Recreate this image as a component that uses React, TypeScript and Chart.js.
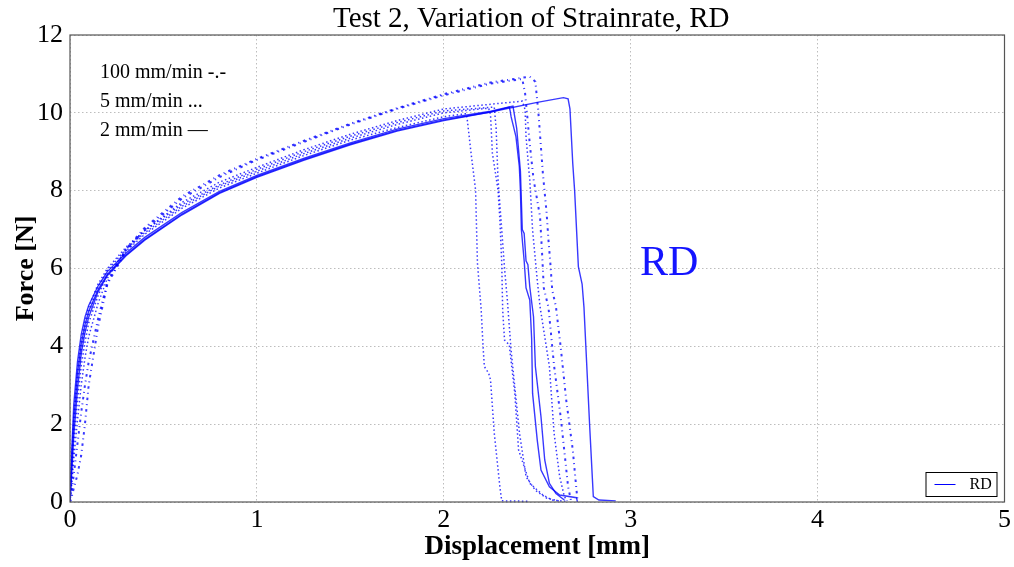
import React, { useEffect, useRef } from 'react';
import { Chart, registerables } from 'chart.js';
Chart.register(...registerables);

// ---- data ----
const RISE_X = [0, 0.01, 0.02, 0.04, 0.06, 0.08, 0.1, 0.15, 0.2, 0.3, 0.4, 0.6, 0.8, 1.0, 1.25, 1.5, 1.75, 2.0];

// 2 mm/min (solid)
const S1_RISE = [0, 1.1, 2.1, 3.3, 4.05, 4.55, 4.9, 5.45, 5.85, 6.35, 6.75, 7.4, 7.95, 8.36, 8.8, 9.2, 9.55, 9.82];
const S1_TAIL_X = [2.25, 2.5, 2.64, 2.665, 2.675, 2.69, 2.7, 2.72, 2.74, 2.75, 2.76, 2.78, 2.795, 2.8, 2.83, 2.92];
const S1_TAIL_Y = [10.02, 10.27, 10.39, 10.36, 10.1, 8.7, 8.0, 6.05, 5.6, 5.0, 4.0, 2.0, 0.6, 0.14, 0.05, 0.03];

const S2_RISE = [0, 0.8, 1.7, 2.9, 3.8, 4.35, 4.75, 5.4, 5.82, 6.33, 6.73, 7.38, 7.93, 8.34, 8.78, 9.18, 9.53, 9.8];
const S2_TAIL_X = [2.25, 2.35, 2.355, 2.36, 2.386, 2.404, 2.41, 2.415, 2.43, 2.44, 2.46, 2.47, 2.475, 2.5, 2.52, 2.565, 2.62, 2.71, 2.715];
const S2_TAIL_Y = [10.02, 10.15, 10.05, 9.9, 9.39, 8.62, 8.0, 7.0, 6.2, 5.5, 5.19, 4.2, 2.79, 1.59, 0.82, 0.39, 0.18, 0.11, 0.0];

const S3_RISE = [0, 1.4, 2.5, 3.6, 4.3, 4.75, 5.05, 5.55, 5.92, 6.4, 6.8, 7.44, 7.98, 8.39, 8.83, 9.23, 9.58, 9.85];
const S3_TAIL_X = [2.25, 2.37, 2.39, 2.41, 2.42, 2.43, 2.44, 2.45, 2.46, 2.48, 2.49, 2.52, 2.54, 2.565, 2.6, 2.645];
const S3_TAIL_Y = [10.04, 10.17, 9.6, 8.5, 7.0, 6.9, 6.2, 6.1, 5.53, 4.76, 3.48, 2.19, 1.08, 0.48, 0.22, 0.05];

// 5 mm/min (dotted)
const D1_RISE = [0, 0.7, 1.5, 2.6, 3.5, 4.1, 4.6, 5.3, 5.85, 6.45, 6.88, 7.55, 8.07, 8.45, 8.9, 9.3, 9.62, 9.9];
const D1_TAIL_X = [2.12, 2.125, 2.145, 2.17, 2.18, 2.2, 2.21, 2.217, 2.24, 2.25, 2.27, 2.3, 2.31, 2.45];
const D1_TAIL_Y = [9.98, 9.85, 9.0, 8.02, 6.14, 4.94, 4.0, 3.48, 3.31, 3.14, 1.77, 0.39, 0.03, 0.02];

const D2_RISE = [0, 1.0, 1.9, 3.1, 3.9, 4.45, 4.85, 5.5, 5.95, 6.5, 6.92, 7.6, 8.12, 8.5, 8.95, 9.35, 9.7, 10.0];
const D2_TAIL_X = [2.24, 2.25, 2.26, 2.29, 2.3, 2.31, 2.315, 2.325, 2.35, 2.38, 2.4, 2.46, 2.53, 2.58, 2.65];
const D2_TAIL_Y = [10.12, 9.95, 8.96, 8.02, 7.25, 6.14, 4.94, 4.16, 4.04, 2.79, 1.34, 0.48, 0.18, 0.05, 0.02];

const D3_RISE = [0, 1.2, 2.2, 3.4, 4.15, 4.65, 5.0, 5.6, 6.0, 6.55, 6.97, 7.65, 8.15, 8.55, 9.0, 9.4, 9.75, 10.05];
const D3_TAIL_X = [2.27, 2.28, 2.29, 2.31, 2.325, 2.34, 2.36, 2.405, 2.44, 2.49, 2.55, 2.62];
const D3_TAIL_Y = [10.15, 9.6, 8.3, 7.0, 6.0, 5.19, 3.9, 1.77, 0.65, 0.3, 0.1, 0.02];

const D4_RISE = [0, 0.5, 1.1, 2.1, 3.0, 3.7, 4.25, 5.1, 5.75, 6.5, 6.98, 7.7, 8.22, 8.6, 9.05, 9.45, 9.8, 10.1];
const D4_TAIL_X = [2.25, 2.42, 2.435, 2.44, 2.455, 2.46, 2.475, 2.5, 2.515, 2.565, 2.59, 2.62, 2.645, 2.66];
const D4_TAIL_Y = [10.22, 10.3, 10.08, 9.39, 8.53, 8.28, 6.99, 5.7, 5.02, 3.48, 1.77, 0.65, 0.14, 0.03];

// 100 mm/min (dash-dot)
const H1_RISE = [0, 0.15, 0.35, 0.7, 1.2, 2.0, 3.0, 4.5, 5.6, 6.45, 7.0, 7.8, 8.35, 8.79, 9.25, 9.7, 10.1, 10.45];
const H1_TAIL_X = [2.25, 2.42, 2.435, 2.445, 2.46, 2.48, 2.515, 2.525, 2.535, 2.56, 2.59, 2.625, 2.65, 2.665, 2.68];
const H1_TAIL_Y = [10.75, 10.87, 10.5, 10.0, 9.2, 8.3, 7.33, 6.47, 5.5, 5.0, 3.5, 2.2, 1.08, 0.39, 0.05];

const H2_RISE = [0, 0.3, 0.7, 1.5, 2.3, 3.0, 3.6, 4.7, 5.65, 6.5, 7.05, 7.85, 8.4, 8.82, 9.28, 9.72, 10.12, 10.48];
const H2_TAIL_X = [2.25, 2.46, 2.49, 2.5, 2.505, 2.53, 2.55, 2.56, 2.57, 2.58, 2.6, 2.625, 2.655, 2.69, 2.705, 2.715];
const H2_TAIL_Y = [10.78, 10.93, 10.8, 10.3, 10.08, 8.45, 7.43, 6.73, 6.14, 5.45, 5.02, 4.0, 2.62, 1.34, 0.56, 0.05];

const X_TICKS = [0, 1, 2, 3, 4, 5];
const Y_TICKS = [0, 2, 4, 6, 8, 10, 12];
const TITLE = 'Test 2, Variation of Strainrate, RD';
const X_TITLE = 'Displacement [mm]';
const Y_TITLE = 'Force [N]';
const NOTES = ['100 mm/min -.-', '5 mm/min ...', '2 mm/min \u2014'];
const LEGEND_LABEL = 'RD';
const BIG_LABEL = 'RD';
const BIG_LABEL_POS = { x: 3.05, y: 6.12 };

const BLUE = 'rgba(0,0,255,0.78)';
const FONT = '"Liberation Serif", "DejaVu Serif", serif';

function curve(rise: number[], tx: number[], ty: number[]) {
  const pts = RISE_X.map((x, i) => ({ x, y: rise[i] }));
  return pts.concat(tx.map((x, i) => ({ x, y: ty[i] })));
}

export default function App() {
  const ref = useRef<HTMLCanvasElement | null>(null);
  useEffect(() => {
    document.body.style.margin = '0';
    const canvas = ref.current;
    if (!canvas) return;
    const solid = { borderColor: BLUE, borderWidth: 1.4, pointRadius: 0, showLine: true, tension: 0, fill: false };
    const dotted = { ...solid, borderWidth: 1.5, borderDash: [1.5, 2.5] };
    const dashdot = { ...solid, borderWidth: 2, borderDash: [2.5, 4, 1, 4] };
    const datasets: any[] = [
      { label: 'h1', data: curve(H1_RISE, H1_TAIL_X, H1_TAIL_Y), ...dashdot },
      { label: 'h2', data: curve(H2_RISE, H2_TAIL_X, H2_TAIL_Y), ...dashdot },
      { label: 'd1', data: curve(D1_RISE, D1_TAIL_X, D1_TAIL_Y), ...dotted },
      { label: 'd2', data: curve(D2_RISE, D2_TAIL_X, D2_TAIL_Y), ...dotted },
      { label: 'd3', data: curve(D3_RISE, D3_TAIL_X, D3_TAIL_Y), ...dotted },
      { label: 'd4', data: curve(D4_RISE, D4_TAIL_X, D4_TAIL_Y), ...dotted },
      { label: 's2', data: curve(S2_RISE, S2_TAIL_X, S2_TAIL_Y), ...solid },
      { label: 's3', data: curve(S3_RISE, S3_TAIL_X, S3_TAIL_Y), ...solid },
      { label: LEGEND_LABEL, data: curve(S1_RISE, S1_TAIL_X, S1_TAIL_Y), ...solid },
    ];

    const overlay = {
      id: 'overlay',
      afterDraw(chart: any) {
        const { ctx, chartArea: a, scales } = chart;
        ctx.save();
        // frame
        ctx.strokeStyle = '#555';
        ctx.lineWidth = 1.2;
        ctx.setLineDash([]);
        ctx.strokeRect(a.left, a.top, a.right - a.left, a.bottom - a.top);
        // title
        ctx.fillStyle = '#000';
        ctx.font = `29px ${FONT}`;
        ctx.textAlign = 'center';
        ctx.textBaseline = 'middle';
        ctx.fillText(TITLE, (a.left + a.right) / 2 - 6, 19);
        // notes
        ctx.font = `20px ${FONT}`;
        ctx.textAlign = 'left';
        NOTES.forEach((t, i) => ctx.fillText(t, 100, 73 + i * 29));
        // big label
        ctx.fillStyle = 'rgb(20,20,255)';
        ctx.font = `42px ${FONT}`;
        ctx.textBaseline = 'middle';
        ctx.fillText(BIG_LABEL, scales.x.getPixelForValue(BIG_LABEL_POS.x), scales.y.getPixelForValue(BIG_LABEL_POS.y));
        // legend
        const bx = a.right - 79, by = a.bottom - 30, bw = 71, bh = 24;
        ctx.fillStyle = '#fff';
        ctx.fillRect(bx, by, bw, bh);
        ctx.strokeStyle = '#000';
        ctx.lineWidth = 1;
        ctx.strokeRect(bx + 0.5, by + 0.5, bw, bh);
        ctx.strokeStyle = 'rgb(0,0,255)';
        ctx.beginPath();
        ctx.moveTo(bx + 9, by + 12.5);
        ctx.lineTo(bx + 30, by + 12.5);
        ctx.stroke();
        ctx.fillStyle = '#000';
        ctx.font = `16px ${FONT}`;
        ctx.fillText(LEGEND_LABEL, bx + 44, by + 12.5);
        ctx.restore();
      },
    };

    const chart = new Chart(canvas, {
      type: 'scatter',
      data: { datasets },
      options: {
        animation: false,
        responsive: false,
        devicePixelRatio: 1,
        layout: { padding: { top: 35, right: 8, left: 0, bottom: 0 } },
        plugins: { legend: { display: false }, tooltip: { enabled: false }, title: { display: false } },
        scales: {
          x: {
            type: 'linear', min: 0, max: 5,
            afterBuildTicks: (s: any) => { s.ticks = X_TICKS.map((v) => ({ value: v })); },
            afterFit: (s: any) => { s.height = 65; },
            ticks: { color: '#000', font: { family: FONT, size: 26 }, padding: 3 },
            grid: { color: '#bdbdbd', lineWidth: 1, drawTicks: false },
            border: { display: false, dash: [1.5, 2.5] },
            title: { display: true, text: X_TITLE, color: '#000', font: { family: FONT, size: 27, weight: 'bold' }, padding: { bottom: 4 } },
          },
          y: {
            type: 'linear', min: 0, max: 12,
            afterBuildTicks: (s: any) => { s.ticks = Y_TICKS.map((v) => ({ value: v })); },
            afterFit: (s: any) => { s.width = 70; },
            ticks: { color: '#000', font: { family: FONT, size: 26 }, padding: 7 },
            grid: { color: '#bdbdbd', lineWidth: 1, drawTicks: false },
            border: { display: false, dash: [1.5, 2.5] },
            title: { display: true, text: Y_TITLE, color: '#000', font: { family: FONT, size: 26, weight: 'bold' }, padding: { top: 11 } },
          },
        },
      },
      plugins: [overlay],
    });
    return () => chart.destroy();
  }, []);
  return (
    <div style={{ width: 1014, height: 567, position: 'relative' }}>
      <canvas ref={ref} width={1014} height={567} style={{ display: 'block' }} />
    </div>
  );
}
